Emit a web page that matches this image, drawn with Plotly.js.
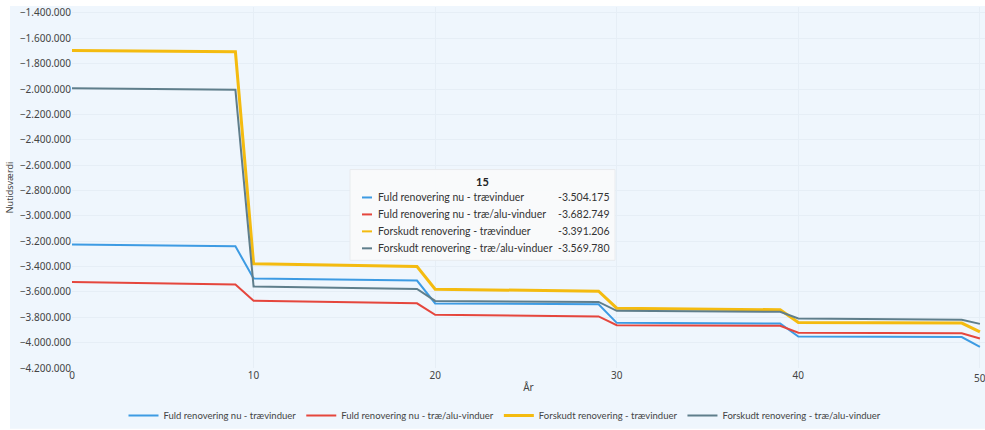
<!DOCTYPE html>
<html>
<head>
<meta charset="utf-8">
<script src="https://cdn.plot.ly/plotly-3.0.1.min.js"></script>
<style>html,body{margin:0;padding:0;background:#fff;}#chart{width:985px;height:430px;}</style>
</head>
<body>
<div id="chart"></div>
<script>
// ---- data ----
var years = [0, 9, 10, 15, 19, 20, 29, 30, 39, 40, 49, 50];
var seriesNames = [
  "Fuld renovering nu - trævinduer",
  "Fuld renovering nu - træ/alu-vinduer",
  "Forskudt renovering - trævinduer",
  "Forskudt renovering - træ/alu-vinduer"
];
var fuldTrae    = [-3225000, -3240000, -3494000, -3504175, -3510000, -3691000, -3697000, -3844000, -3849000, -3952000, -3956000, -4033000];
var fuldAlu     = [-3521000, -3542000, -3670000, -3682749, -3690000, -3781000, -3793000, -3862000, -3867000, -3922000, -3926000, -3967000];
var forskudtTrae= [-1696000, -1706000, -3377000, -3391206, -3400000, -3579000, -3594000, -3728000, -3741000, -3841000, -3846000, -3915000];
var forskudtAlu = [-1993000, -2006000, -3557000, -3569780, -3576000, -3671000, -3679000, -3749000, -3757000, -3809000, -3820000, -3852000];
var hoverYear = 15;
var lastTick = 50;

// ---- style ----
var colors = ["#3d9be3", "#e5463d", "#f4bb10", "#5f7e8b"];
var widths = [2, 2, 3, 2];
var allSeries = [fuldTrae, fuldAlu, forskudtTrae, forskudtAlu];
var font = "'Noto Sans', 'Open Sans', sans-serif";
var font2 = "Lato, 'Noto Sans', sans-serif";

function fmt(v) {
  var s = Math.round(Math.abs(v)).toString();
  var out = "";
  while (s.length > 3) { out = "." + s.slice(-3) + out; s = s.slice(0, -3); }
  out = s + out;
  return (v < 0 ? "-" : "") + out;
}

var traces = allSeries.map(function (ys, i) {
  return {
    x: years, y: ys, type: "scatter", mode: "lines", name: seriesNames[i],
    line: {color: colors[i], width: widths[i]}, hoverinfo: "skip"
  };
});

// plot-area geometry in paper units (for the tooltip box)
var L = 72, W = 913, B = 369, H = 362;
function px(x) { return (x - L) / W; }
function py(y) { return (B - y) / H; }

var idx = years.indexOf(hoverYear);
var shapes = [
  {type: "rect", xref: "paper", yref: "paper", x0: px(10), x1: px(985), y0: py(430), y1: py(6),
   fillcolor: "#eff6fd", line: {width: 0}, layer: "below"},
  {type: "rect", xref: "paper", yref: "paper", x0: px(350), x1: px(615), y0: py(261), y1: py(170),
   fillcolor: "rgba(249,250,251,0.96)", line: {color: "#e8ebee", width: 1}, layer: "above"}
];
var annotations = [
  {xref: "paper", yref: "paper", x: px(482), y: py(182), text: "<b>" + hoverYear + "</b>", showarrow: false,
   font: {family: font2, size: 11, color: "#222"}, xanchor: "center", yanchor: "middle"},
  {xref: "x", yref: "paper", x: lastTick, y: py(379), text: String(lastTick), showarrow: false,
   font: {family: font, size: 10, color: "#444"}, xanchor: "center", yanchor: "middle"}
];
var rowY = [198, 215, 232, 249];
seriesNames.forEach(function (n, i) {
  shapes.push({type: "line", xref: "paper", yref: "paper", x0: px(362), x1: px(372), y0: py(rowY[i]), y1: py(rowY[i]),
    line: {color: colors[i], width: 2}, layer: "above"});
  annotations.push({xref: "paper", yref: "paper", x: px(376), y: py(rowY[i]), text: n, showarrow: false,
    font: {family: font2, size: 10.5, color: "#333"}, xanchor: "left", yanchor: "middle"});
  annotations.push({xref: "paper", yref: "paper", x: px(556), y: py(rowY[i]), text: fmt(allSeries[i][idx]), showarrow: false,
    font: {family: font2, size: 10.5, color: "#333"}, xanchor: "left", yanchor: "middle"});
});

var layout = {
  width: 985, height: 430,
  margin: {l: 72, r: 0, t: 7, b: 61},
  paper_bgcolor: "#ffffff",
  plot_bgcolor: "rgba(0,0,0,0)",
  separators: ",.",
  font: {family: font, size: 10, color: "#444"},
  showlegend: true,
  legend: {orientation: "h", x: px(505), xanchor: "center", y: py(402), yanchor: "top",
           font: {family: font2, size: 9.5, color: "#444"}, itemwidth: 30, bgcolor: "rgba(0,0,0,0)"},
  xaxis: {
    range: [0, 50.28], dtick: 10, tick0: 0, showgrid: true, gridcolor: "#e6eef6", zeroline: false,
    showline: false, ticks: "", tickfont: {size: 10, color: "#444"},
    title: {text: "År", font: {size: 10, color: "#444"}, standoff: 2}
  },
  yaxis: {
    range: [-4200000, -1352800], dtick: 200000, tick0: -4200000, tickformat: ",d",
    showgrid: true, gridcolor: "#e6eef6", zeroline: false, showline: false, ticks: "",
    tickfont: {size: 10, color: "#444"},
    title: {text: "Nutidsværdi", font: {size: 9, color: "#444"}, standoff: 4}
  },
  shapes: shapes,
  annotations: annotations
};

Plotly.newPlot("chart", traces, layout, {displayModeBar: false, staticPlot: true});
</script>
</body>
</html>
